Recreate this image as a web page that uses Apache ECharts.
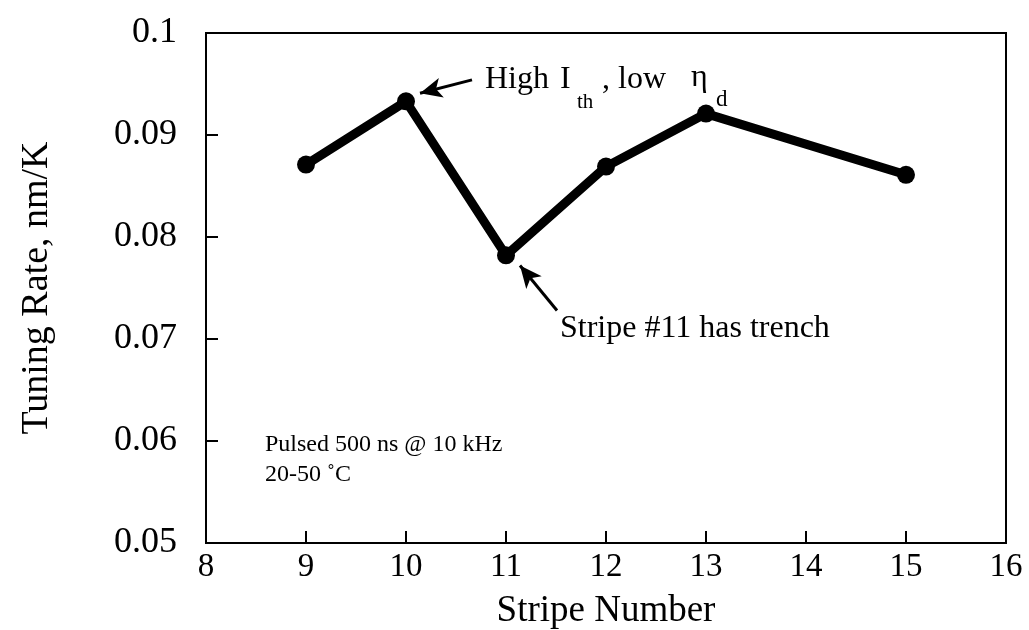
<!DOCTYPE html>
<html>
<head>
<meta charset="utf-8">
<script src="https://cdn.jsdelivr.net/npm/echarts@6/dist/echarts.min.js"></script>
<style>
  html, body { margin: 0; padding: 0; background: #fff; }
  #chart { width: 1029px; height: 630px; }
</style>
</head>
<body>
<div id="chart"></div>
<script>
// stripe number vs tuning rate (nm/K)
var stripes = [9, 10, 11, 12, 13, 15];
var rates = [0.0871, 0.0933, 0.0782, 0.0869, 0.0921, 0.0861];

// arrows, in data coords: [tail, tip]
var arrow_hi = [[10.66, 0.0954], [10.14, 0.0941]];
var arrow_trench = [[11.51, 0.0728], [11.14, 0.0772]];

var serif = '"Liberation Serif", "DejaVu Serif", serif';

var chart = echarts.init(document.getElementById('chart'));

function txt(x, y, s, size) {
	return {
		type: 'text',
		x: x, y: y,
		style: {
			text: s,
			font: size + 'px ' + serif,
			fill: '#000',
			verticalAlign: 'middle',
			align: 'left'
		}
	};
}

var option = {
	backgroundColor: '#fff',
	animation: false,
	grid: {
		left: 206, right: 23, top: 33, bottom: 87,
		outerBoundsMode: 'none',
		containLabel: false,
		show: true, borderColor: '#000', borderWidth: 2
	},
	xAxis: {
		type: 'value',
		min: 8, max: 16, interval: 1,
		name: 'Stripe Number',
		nameLocation: 'middle',
		nameGap: 50,
		nameTextStyle: { fontFamily: serif, fontSize: 37, color: '#000' },
		axisLine: { lineStyle: { color: '#000', width: 2 } },
		axisTick: { inside: true, length: 12, lineStyle: { color: '#000', width: 2 } },
		axisLabel: { fontFamily: serif, fontSize: 33, color: '#000', margin: 8 },
		splitLine: { show: false }
	},
	yAxis: {
		type: 'value',
		min: 0.05, max: 0.1, interval: 0.01,
		name: 'Tuning Rate, nm/K',
		nameLocation: 'middle',
		nameGap: 150,
		nameTextStyle: { fontFamily: serif, fontSize: 38, color: '#000' },
		axisLine: { lineStyle: { color: '#000', width: 2 } },
		axisTick: { inside: true, length: 12, lineStyle: { color: '#000', width: 2 } },
		axisLabel: {
			fontFamily: serif, fontSize: 36, color: '#000', margin: 29,
			formatter: function (v) { return String(+v.toFixed(2)); }
		},
		splitLine: { show: false }
	},
	series: [{
		type: 'line',
		data: stripes.map(function (s, i) { return [s, rates[i]]; }),
		symbol: 'circle',
		symbolSize: 18,
		itemStyle: { color: '#000' },
		lineStyle: { color: '#000', width: 9 },
		markLine: {
			silent: true,
			symbol: ['none', 'arrow'],
			symbolSize: [15, 22],
			label: { show: false },
			lineStyle: { color: '#000', width: 3, type: 'solid' },
			data: [
				[{ coord: arrow_hi[0] }, { coord: arrow_hi[1] }],
				[{ coord: arrow_trench[0] }, { coord: arrow_trench[1] }]
			]
		}
	}],
	graphic: [
		txt(485, 80, 'High', 32),
		txt(560, 80, 'I', 32),
		txt(577, 102, 'th', 21),
		txt(602, 80, ', low', 32),
		txt(691, 78, 'η', 32),
		txt(716, 100, 'd', 23),
		txt(560, 329, 'Stripe #11 has trench', 32),
		txt(265, 445, 'Pulsed 500 ns @ 10 kHz', 24),
		txt(265, 475, '20-50 ˚C', 24)
	]
};
chart.setOption(option);
</script>
</body>
</html>
